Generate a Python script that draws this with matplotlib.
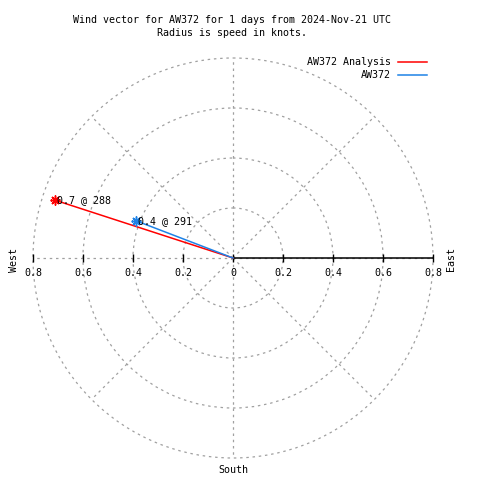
import numpy as np
import matplotlib
matplotlib.use("Agg")
from matplotlib import pyplot as plt
from matplotlib.lines import Line2D

# wind vectors: speed (knots) and bearing (degrees)
series_names = ["AW372 Analysis", "AW372"]
speeds       = [0.75, 0.415]
bearings     = [288, 291]
point_labels = ["0.7 @ 288", "0.4 @ 291"]
colors       = ["#ff0000", "#1e82e6"]

r_ticks      = [0.2, 0.4, 0.6, 0.8]
r_max        = 0.8

FONT = "DejaVu Sans Mono"
FS = 7.2
plt.rcParams['font.family'] = [FONT]

fig = plt.figure(figsize=(4.8, 4.8), dpi=100)
cx, cy, rad = 233, 258, 200   # pixels
ax = fig.add_axes([(cx - rad) / 480, (480 - cy - rad) / 480, 2 * rad / 480, 2 * rad / 480],
                  projection='polar')
ax.set_theta_zero_location('N')
ax.set_theta_direction(-1)
ax.set_rlim(0, r_max)
ax.set_rgrids(r_ticks)
ax.set_thetagrids(np.arange(0, 360, 45))
ax.set_xticklabels([])
ax.set_yticklabels([])
ax.grid(True, color='#a0a0a0', linestyle=(0, (2, 3)), linewidth=0.9)
for gl in ax.yaxis.get_gridlines() + ax.xaxis.get_gridlines():
    gl.set_clip_on(False)
ax.spines['polar'].set_visible(False)
ax.patch.set_alpha(0)

# horizontal axis: solid to the east, ticks both sides
east, west = np.radians(90), np.radians(270)
ax.plot([east, east], [0, r_max], color='black', lw=1.1, zorder=3, clip_on=False)
ax.plot(np.full(5, east), [0] + r_ticks, ls='none', marker='|', ms=6, mew=1, color='black',
        zorder=3, clip_on=False)
ax.plot(np.full(4, west), r_ticks, ls='none', marker='|', ms=6, mew=1, color='black',
        zorder=3, clip_on=False)

for t in [0] + r_ticks:
    lbl = "0" if t == 0 else f"{t:.1f}"
    ax.annotate(lbl, xy=(east, t), xytext=(0, -7.5), textcoords='offset points',
                ha='center', va='top', fontsize=FS)
    if t > 0:
        ax.annotate(lbl, xy=(west, t), xytext=(0, -7.5), textcoords='offset points',
                    ha='center', va='top', fontsize=FS)

# vectors
for name, s, b, lab, c in zip(series_names, speeds, bearings, point_labels, colors):
    th = np.radians(b)
    ax.plot([th, th], [0, s], color=c, lw=1.1, zorder=4)
    ax.plot([th], [s], ls='none', marker=(8, 2, 0), ms=7, mew=1.1, color=c, zorder=5)
    ax.annotate(lab, xy=(th, s), xytext=(1.5, 0), textcoords='offset points',
                ha='left', va='center', fontsize=FS, zorder=6)

# compass labels
fig.text(451 / 480, 1 - 259 / 480, "East", rotation=90, ha='center', va='center', fontsize=FS)
fig.text(14 / 480, 1 - 260 / 480, "West", rotation=90, ha='center', va='center', fontsize=FS)
fig.text(233 / 480, 1 - 470 / 480, "South", ha='center', va='center', fontsize=FS)

# title
fig.text(232 / 480, 1 - 20 / 480, "Wind vector for AW372 for 1 days from 2024-Nov-21 UTC",
         ha='center', va='center', fontsize=FS)
fig.text(232 / 480, 1 - 33 / 480, "Radius is speed in knots.",
         ha='center', va='center', fontsize=FS)

# legend
for i, (name, c) in enumerate(zip(series_names, colors)):
    y = 1 - (62 + 13 * i) / 480
    fig.text(391 / 480, y, name, ha='right', va='center', fontsize=FS)
    fig.add_artist(Line2D([398 / 480, 427 / 480], [y, y], color=c, lw=1.1,
                          transform=fig.transFigure))

fig.savefig("out.png", dpi=100)
